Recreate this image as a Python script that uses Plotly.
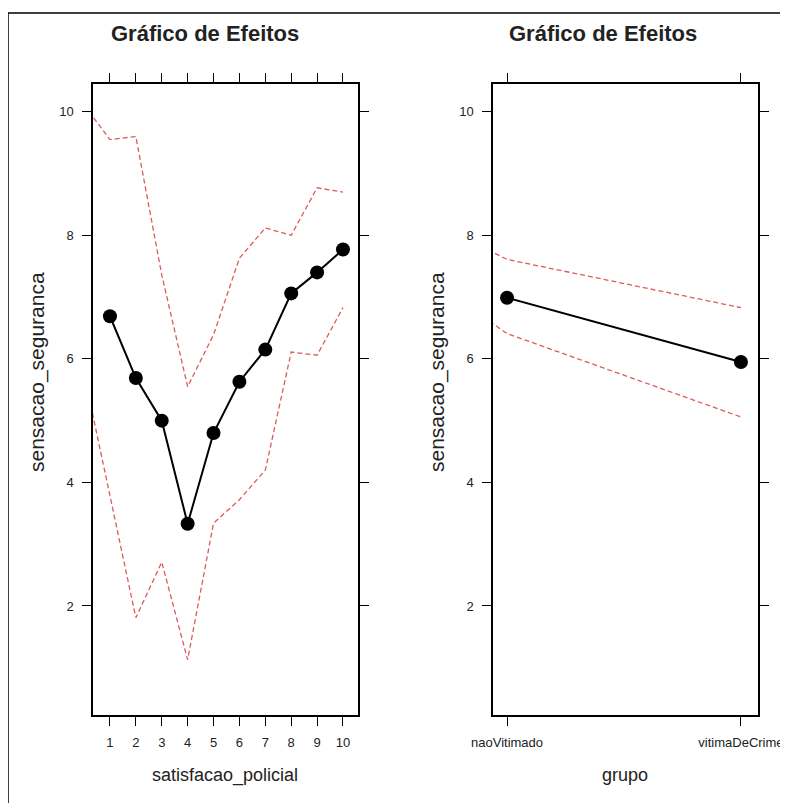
import plotly.graph_objects as go

# ---- data ----
sat_levels = [1, 2, 3, 4, 5, 6, 7, 8, 9, 10]
sat_mean = [6.69, 5.69, 5.00, 3.33, 4.80, 5.63, 6.15, 7.06, 7.40, 7.77]
sat_ci_x = [0, 1, 2, 3, 4, 5, 6, 7, 8, 9, 10]
sat_upper = [10.11, 9.55, 9.60, 7.36, 5.55, 6.39, 7.63, 8.12, 8.00, 8.77, 8.70]
sat_lower = [5.76, 3.78, 1.81, 2.71, 1.13, 3.34, 3.72, 4.20, 6.11, 6.06, 6.83]

grp_labels = ["naoVitimado", "vitimaDeCrime"]
grp_pos = [1, 2]
grp_mean = [6.99, 5.95]
grp_ci_x = [0, 1, 2]
grp_upper = [9.50, 7.61, 6.83]
grp_lower = [9.06, 6.41, 5.06]

y_ticks = [2, 4, 6, 8, 10]

W, H = 788, 803
OFF = 8  # page body margin
def px(x):
    return (x - OFF) / W
def py(y):
    return 1 - (y - OFF) / H

FONT = "Liberation Sans, Arial, sans-serif"
RED = "#de5a5a"

fig = go.Figure()

# left panel
fig.add_trace(go.Scatter(x=sat_ci_x, y=sat_upper, mode="lines", xaxis="x", yaxis="y",
                         line=dict(color=RED, width=1.3, dash="5px,3px"), showlegend=False))
fig.add_trace(go.Scatter(x=sat_ci_x, y=sat_lower, mode="lines", xaxis="x", yaxis="y",
                         line=dict(color=RED, width=1.3, dash="5px,3px"), showlegend=False))
fig.add_trace(go.Scatter(x=sat_levels, y=sat_mean, mode="lines+markers", xaxis="x", yaxis="y",
                         line=dict(color="black", width=2),
                         marker=dict(color="black", size=14), showlegend=False))

# right panel
fig.add_trace(go.Scatter(x=grp_ci_x, y=grp_upper, mode="lines", xaxis="x2", yaxis="y2",
                         line=dict(color=RED, width=1.3, dash="5px,3px"), showlegend=False))
fig.add_trace(go.Scatter(x=grp_ci_x, y=grp_lower, mode="lines", xaxis="x2", yaxis="y2",
                         line=dict(color=RED, width=1.3, dash="5px,3px"), showlegend=False))
fig.add_trace(go.Scatter(x=grp_pos, y=grp_mean, mode="lines+markers", xaxis="x2", yaxis="y2",
                         line=dict(color="black", width=2),
                         marker=dict(color="black", size=14), showlegend=False, cliponaxis=False))

ydom = [py(715), py(84)]
common_axis = dict(showgrid=False, zeroline=False, showline=True, linecolor="black", linewidth=1.5,
                   mirror="ticks", ticks="outside", ticklen=9, tickwidth=1.3, tickcolor="black",
                   automargin=False,
                   tickfont=dict(family=FONT, size=13, color="#222"))

fig.update_layout(
    template="none",
    width=W, height=H,
    margin=dict(l=0, r=0, t=0, b=0, pad=0, autoexpand=False),
    paper_bgcolor="white", plot_bgcolor="white",
    xaxis=dict(domain=[px(93), px(358)], range=[0.345, 10.58], anchor="y",
               tickvals=sat_levels, ticklabelstandoff=6, **common_axis),
    yaxis=dict(domain=ydom, range=[0.235, 10.45], anchor="x",
               tickvals=y_ticks, ticklabelstandoff=6, **common_axis),
    xaxis2=dict(domain=[px(493), px(758)], range=[0.94, 2.073], anchor="y2",
                tickvals=grp_pos, ticktext=grp_labels, ticklabelstandoff=6, **common_axis),
    yaxis2=dict(domain=ydom, range=[0.235, 10.45], anchor="x2",
                tickvals=y_ticks, ticklabelstandoff=6, **common_axis),
)

annots = [
    dict(text="<b>Gráfico de Efeitos</b>", x=px(205), y=py(33), size=22),
    dict(text="<b>Gráfico de Efeitos</b>", x=px(603), y=py(33), size=22),
    dict(text="satisfacao_policial", x=px(225), y=py(775), size=18),
    dict(text="grupo", x=px(625), y=py(775), size=18),
]
for a in annots:
    fig.add_annotation(text=a["text"], x=a["x"], y=a["y"], xref="paper", yref="paper",
                       showarrow=False, xanchor="center", yanchor="middle",
                       font=dict(family=FONT, size=a["size"], color="#222"))
for xc in (37, 437):
    fig.add_annotation(text="sensacao_seguranca", x=px(xc), y=py(372), xref="paper", yref="paper",
                       showarrow=False, textangle=-90, xanchor="center", yanchor="middle",
                       font=dict(family=FONT, size=21, color="#222"))

# outer frame (partially outside the page, as in the original crop)
fig.add_shape(type="rect", xref="paper", yref="paper",
              x0=px(8), y0=-0.2, x1=1.2, y1=py(13),
              line=dict(color="black", width=1.5), fillcolor="rgba(0,0,0,0)")

fig.write_html("out.html")
